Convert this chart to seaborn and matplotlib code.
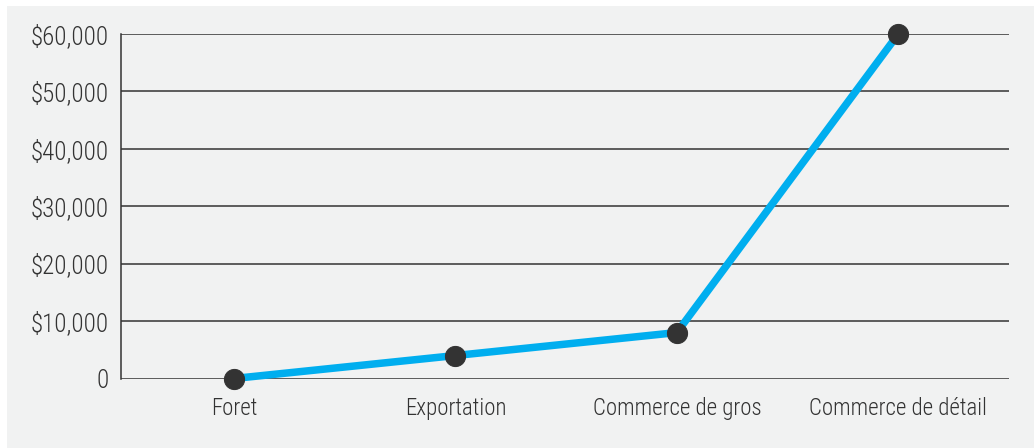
import matplotlib
matplotlib.use("Agg")
import matplotlib.pyplot as plt
import matplotlib.patches as mpatches
from matplotlib import font_manager
from matplotlib.ticker import FuncFormatter
import seaborn as sns
import pandas as pd

# Value chain stages and the value at each stage
stages = ["Foret", "Exportation", "Commerce de gros", "Commerce de détail"]
values = [0, 4000, 8000, 60000]
y_ticks = [0, 10000, 20000, 30000, 40000, 50000, 60000]

df = pd.DataFrame({"stage": stages, "value": values})

sns.set_theme(style="white")
names = {f.name for f in font_manager.fontManager.ttflist}
preferred = ["Roboto Condensed", "Liberation Sans Narrow", "Archivo Narrow",
             "PT Sans Narrow", "Liberation Sans"]
family = next(n for n in preferred if n in names)
plt.rcParams["font.family"] = [family, "DejaVu Sans"]

panel = "#f1f2f2"
ink = "#333333"

fig = plt.figure(figsize=(10.34, 4.48), dpi=100, facecolor="white")
W, H = 1034, 448
# grey backdrop panel behind the axes
fig.patches.append(mpatches.Rectangle((7 / W, 0), 1 - 7 / W, 1 - 6 / H,
                                      transform=fig.transFigure,
                                      facecolor=panel, edgecolor="none", zorder=-10))

ax = fig.add_axes([121 / W, 1 - 378.5 / H, (1009 - 121) / W, (378.5 - 34) / H])
ax.set_facecolor(panel)

sns.lineplot(data=df, x="stage", y="value", ax=ax, sort=False,
             color="#00aeef", linewidth=5.4, marker="o", markersize=14.5,
             markerfacecolor=ink, markeredgecolor=ink, zorder=3)

ax.set_xlim(-0.51, 3.5)
ax.set_ylim(0, 60000)
ax.set_yticks(y_ticks)
ax.yaxis.set_major_formatter(FuncFormatter(lambda v, _: "0" if v == 0 else f"${v:,.0f}"))
ax.grid(axis="y", color=ink, linewidth=1.1)
ax.grid(axis="x", visible=False)
ax.set_axisbelow(True)
for side in ["top", "right", "bottom"]:
    ax.spines[side].set_visible(False)
ax.spines["left"].set_color(ink)
ax.spines["left"].set_linewidth(1.1)
ax.tick_params(axis="both", length=0, colors=ink)
ax.tick_params(axis="y", pad=9, labelsize=18)
ax.tick_params(axis="x", pad=13, labelsize=16.5)
ax.set_xlabel("")
ax.set_ylabel("")
for lbl in ax.get_yticklabels() + ax.get_xticklabels():
    lbl.set_color(ink)
    lbl.set_fontweight("light")
# keep markers on top of the axes frame
for line in ax.lines:
    line.set_clip_on(False)

fig.savefig("out.png", dpi=100, facecolor="white")
